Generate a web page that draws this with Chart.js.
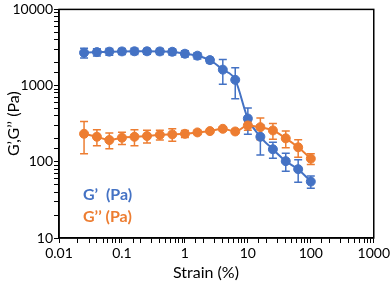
<!DOCTYPE html>
<html>
<head>
<meta charset="utf-8">
<script src="https://cdn.jsdelivr.net/npm/chart.js@4/dist/chart.umd.min.js"></script>
<style>
  html, body { margin: 0; padding: 0; background: #fff; }
  #wrap { width: 392px; height: 285px; }
</style>
</head>
<body>
<div id="wrap"><canvas id="c" width="392" height="285"></canvas></div>
<script>
// Strain (%) values
const strain = [0.025, 0.04, 0.063, 0.1, 0.158, 0.25, 0.4, 0.63, 1, 1.58, 2.5, 4, 6.3, 10, 15.8, 25, 40, 63, 100];
// G' (Pa) and its error
const gPrime = [2700, 2750, 2790, 2810, 2820, 2820, 2810, 2780, 2620, 2470, 2160, 1620, 1190, 370, 213, 146, 102, 80, 55];
const gPrimeErr = [400, 300, 280, 260, 260, 250, 250, 250, 240, 230, 180, 580, 520, 140, 90, 35, 27, 26, 10];
// G'' (Pa) and its error
const gDouble = [233, 213, 193, 207, 213, 218, 226, 229, 233, 243, 253, 271, 250, 300, 285, 258, 203, 155, 110];
const gDoubleErr = [105, 50, 45, 38, 50, 42, 33, 43, 25, 15, 15, 15, 15, 40, 90, 60, 50, 40, 18];
// axis settings
const xMin = 0.01, xMax = 1000;
const yMin = 10, yMax = 10000;
const xTitle = 'Strain (%)';
const yTitle = 'G\u2019,G\u2019\u2019 (Pa)';
const legendLabels = ['G\u2019  (Pa)', 'G\u2019\u2019 (Pa)'];

const BLUE = '#4472C4';
const ORANGE = '#ED7D31';
const FONT = 'Lato, "Liberation Sans", sans-serif';

function isDecade(v) {
  const l = Math.log10(v);
  return Math.abs(l - Math.round(l)) < 1e-6;
}
function decadeLabel(v) {
  return isDecade(v) ? String(Number(v.toPrecision(1))) : '';
}

const errorBars = {
  id: 'errorBars',
  beforeDatasetsDraw(chart) {
    const ctx = chart.ctx;
    const xs = chart.scales.x, ys = chart.scales.y;
    const a = chart.chartArea;
    ctx.save();
    ctx.beginPath();
    ctx.rect(a.left, a.top, a.right - a.left, a.bottom - a.top);
    ctx.clip();
    chart.data.datasets.forEach((ds) => {
      const errs = ds.errors;
      ctx.strokeStyle = ds.borderColor;
      ctx.lineWidth = 1.5;
      ds.data.forEach((p, i) => {
        const x = xs.getPixelForValue(p.x);
        const hi = ys.getPixelForValue(p.y + errs[i]);
        const lo = ys.getPixelForValue(Math.max(p.y - errs[i], yMin / 10));
        ctx.beginPath();
        ctx.moveTo(x, hi); ctx.lineTo(x, lo);
        ctx.moveTo(x - 4, hi); ctx.lineTo(x + 4, hi);
        ctx.moveTo(x - 4, lo); ctx.lineTo(x + 4, lo);
        ctx.stroke();
      });
    });
    ctx.restore();
  },
  afterDraw(chart) {
    const ctx = chart.ctx;
    const a = chart.chartArea;
    ctx.save();
    ctx.strokeStyle = '#000';
    ctx.lineWidth = 1.5;
    ctx.strokeRect(a.left, a.top, a.right - a.left, a.bottom - a.top);
    // x axis title
    ctx.font = '16px ' + FONT;
    ctx.fillStyle = '#000';
    ctx.textAlign = 'center';
    ctx.textBaseline = 'middle';
    ctx.fillText(xTitle, 206, 273);
    // legend text
    ctx.font = 'bold 16px ' + FONT;
    ctx.textAlign = 'left';
    ctx.fillStyle = BLUE;
    ctx.fillText(legendLabels[0], 83, 195);
    ctx.fillStyle = ORANGE;
    ctx.fillText(legendLabels[1], 83, 217);
    ctx.restore();
  }
};

const pts = (xs, ys) => xs.map((x, i) => ({ x: x, y: ys[i] }));

new Chart(document.getElementById('c'), {
  type: 'line',
  data: {
    datasets: [
      {
        label: legendLabels[1],
        data: pts(strain, gDouble),
        errors: gDoubleErr,
        borderColor: ORANGE,
        backgroundColor: ORANGE,
        pointBackgroundColor: ORANGE,
        pointBorderColor: ORANGE,
        pointRadius: 4.5,
        pointBorderWidth: 1,
        borderWidth: 2,
        cubicInterpolationMode: 'monotone',
        order: 0
      },
      {
        label: legendLabels[0],
        data: pts(strain, gPrime),
        errors: gPrimeErr,
        borderColor: BLUE,
        backgroundColor: BLUE,
        pointBackgroundColor: BLUE,
        pointBorderColor: BLUE,
        pointRadius: 4.5,
        pointBorderWidth: 1,
        borderWidth: 2,
        cubicInterpolationMode: 'monotone',
        order: 1
      }
    ]
  },
  options: {
    responsive: false,
    animation: false,
    layout: { padding: { left: 0, right: 15, top: 7, bottom: 0 } },
    plugins: { legend: { display: false }, tooltip: { enabled: false } },
    scales: {
      x: {
        type: 'logarithmic',
        min: xMin, max: xMax,
        afterFit(s) { s.height = 47; },
        grid: { drawOnChartArea: false, drawTicks: true, tickLength: 5, tickColor: '#000', tickWidth: 1 },
        border: { display: true, color: '#000', width: 1.5 },
        ticks: {
          autoSkip: false, maxRotation: 0, padding: 2,
          color: '#000', font: { family: FONT, size: 14 },
          callback: (v) => decadeLabel(v)
        },
        title: { display: false, text: xTitle }
      },
      y: {
        type: 'logarithmic',
        min: yMin, max: yMax,
        afterFit(s) { s.width = 59; },
        grid: { drawOnChartArea: false, drawTicks: true, tickLength: 5, tickColor: '#000', tickWidth: 1 },
        border: { display: true, color: '#000', width: 1.5 },
        ticks: {
          autoSkip: false, padding: 1,
          color: '#000', font: { family: FONT, size: 14 },
          callback: (v) => decadeLabel(v)
        },
        title: { display: true, text: yTitle, color: '#000', font: { family: FONT, size: 16 }, padding: { top: 4, bottom: 0 } }
      }
    }
  },
  plugins: [errorBars]
});
</script>
</body>
</html>
